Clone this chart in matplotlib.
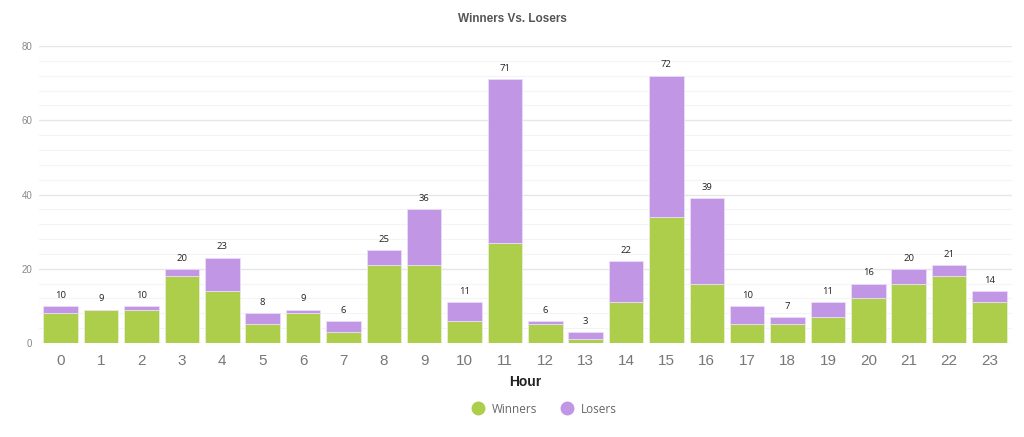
import matplotlib
matplotlib.use("Agg")
import matplotlib.pyplot as plt
import numpy as np
from matplotlib.lines import Line2D

hours = [str(h) for h in range(24)]
winners = [8, 9, 9, 18, 14, 5, 8, 3, 21, 21, 6, 27, 5, 1, 11, 34, 16, 5, 5, 7, 12, 16, 18, 11]
losers = [2, 0, 1, 2, 9, 3, 1, 3, 4, 15, 5, 44, 1, 2, 11, 38, 23, 5, 2, 4, 4, 4, 3, 3]
yticks = [0, 20, 40, 60, 80]

green = "#ADCE4A"
purple = "#C196E5"

plt.rcParams['font.family'] = ['Liberation Sans', 'DejaVu Sans']
fig = plt.figure(figsize=(10.24, 4.37), dpi=100)
ax = fig.add_axes([0.0376, 0.215, 0.9504, 0.6797])

x = np.arange(len(hours))
w = 0.855
ax.bar(x, winners, width=w, color=green, edgecolor="#E8F0D8", linewidth=0.6, zorder=3)
ax.bar(x, losers, width=w, bottom=winners, color=purple, edgecolor="#EBDDF7", linewidth=0.6, zorder=3)

totals = [a + b for a, b in zip(winners, losers)]
for xi, t in zip(x, totals):
    ax.annotate(str(t), (xi, t), xytext=(0, 4.5), textcoords="offset points",
                ha="center", va="bottom", fontsize=6.8, color="#222222",
                family=["Open Sans", "DejaVu Sans"])

ax.set_xlim(-0.55, len(hours) - 0.45)
ax.set_ylim(0, 80)
ax.set_yticks(yticks)
ax.set_yticks(np.arange(0, 81, 4), minor=True)
ax.grid(axis="y", which="major", color="#E6E6E6", linewidth=1.0, zorder=0)
ax.grid(axis="y", which="minor", color="#F4F4F4", linewidth=0.8, zorder=0)
ax.set_xticks(x)
ax.set_xticklabels(hours)
ax.tick_params(axis="x", length=0, labelsize=11, labelcolor="#777777", pad=8)
ax.tick_params(axis="y", which="both", length=0, labelsize=7, labelcolor="#888888", pad=4.5)
for s in ax.spines.values():
    s.set_visible(False)

ax.set_xlabel("Hour", fontsize=10, fontweight="bold", color="#222222", labelpad=5)
fig.text(0.5, 0.957, "Winners Vs. Losers", ha="center", va="center",
         fontsize=8.5, fontweight="bold", color="#555555")

handles = [Line2D([], [], marker="o", linestyle="", markersize=9, color=green),
           Line2D([], [], marker="o", linestyle="", markersize=9, color=purple)]
fig.legend(handles, ["Winners", "Losers"], loc="center", bbox_to_anchor=(0.5305, 0.064),
           ncol=2, frameon=False, labelcolor="#666666",
           handletextpad=0.4, columnspacing=1.8, handlelength=1.5,
           prop={"family": ["Open Sans", "DejaVu Sans"], "size": 8.5})

fig.savefig("out.png", dpi=100, facecolor="white")
